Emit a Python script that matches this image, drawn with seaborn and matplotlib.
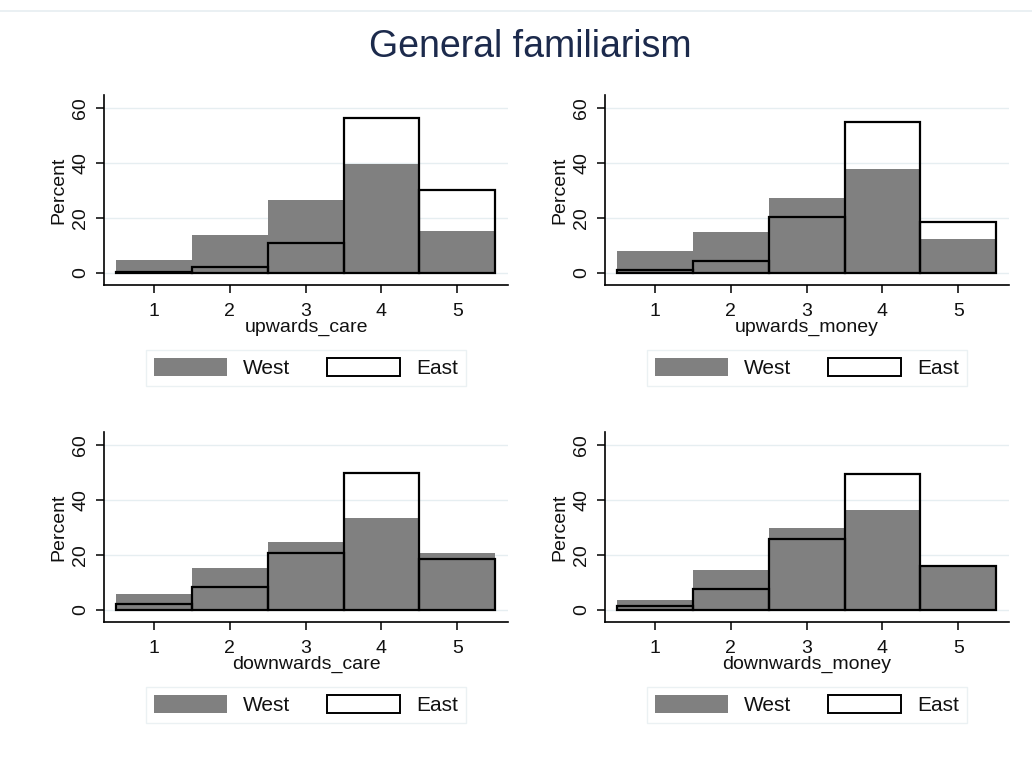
import numpy as np
import pandas as pd
import matplotlib
matplotlib.use("Agg")
import matplotlib.pyplot as plt
from matplotlib.patches import Patch
from matplotlib.lines import Line2D
import seaborn as sns

# answer categories 1..5, percent of respondents per region
categories = [1, 2, 3, 4, 5]
variables = ["upwards_care", "upwards_money", "downwards_care", "downwards_money"]

west_upwards_care = [4.6, 13.7, 26.6, 39.8, 15.3]
east_upwards_care = [0.4, 2.2, 11.0, 56.4, 30.0]

west_upwards_money = [8.0, 14.7, 27.3, 37.8, 12.2]
east_upwards_money = [0.9, 4.4, 20.3, 54.9, 18.6]

west_downwards_care = [5.7, 15.2, 24.8, 33.6, 20.7]
east_downwards_care = [2.2, 8.3, 20.5, 50.0, 18.3]

west_downwards_money = [3.4, 14.6, 29.8, 36.5, 15.7]
east_downwards_money = [1.4, 7.6, 25.8, 49.4, 15.8]

west = [west_upwards_care, west_upwards_money, west_downwards_care, west_downwards_money]
east = [east_upwards_care, east_upwards_money, east_downwards_care, east_downwards_money]

sns.set_theme(style="white")
plt.rcParams["font.family"] = ["Liberation Sans", "DejaVu Sans"]

W, H = 1032, 757
fig = plt.figure(figsize=(W / 100, H / 100), dpi=100)

# axes boxes in pixels: left, top, right, bottom
boxes = [(104, 95, 508, 285), (605, 95, 1009, 285),
         (104, 432, 508, 622), (605, 432, 1009, 622)]

gray = "#808080"
text_col = "#111111"

for i, var in enumerate(variables):
    l, t, r, b = boxes[i]
    ax = fig.add_axes([l / W, 1 - b / H, (r - l) / W, (b - t) / H])
    sns.histplot(x=categories, weights=west[i], discrete=True, stat="count",
                 color=gray, edgecolor=gray, alpha=1, linewidth=0, ax=ax)
    sns.histplot(x=categories, weights=east[i], discrete=True, stat="count",
                 fill=False, color="black", linewidth=1.6, ax=ax)
    ax.set_xlim(0.34, 5.67)
    ax.set_ylim(-4.5, 64.8)
    ax.set_xticks(categories)
    ax.set_yticks([0, 20, 40, 60])
    ax.grid(axis="y", color="#e6eef1", linewidth=1.0)
    ax.set_axisbelow(True)
    for s in ["top", "right"]:
        ax.spines[s].set_visible(False)
    for s in ["left", "bottom"]:
        ax.spines[s].set_color("black")
        ax.spines[s].set_linewidth(1.2)
    ax.tick_params(axis="both", direction="out", length=6, width=1.1,
                   color="black", labelsize=14, labelcolor=text_col,
                   bottom=True, left=True)
    ax.tick_params(axis="x", pad=7)
    ax.tick_params(axis="y", pad=4.5)
    for lab in ax.get_yticklabels():
        lab.set_rotation(90)
        lab.set_va("center")
    ax.set_ylabel("Percent", fontsize=14, color=text_col, labelpad=3.5)
    ax.set_xlabel(var, fontsize=14, color=text_col, labelpad=-1)

    handles = [Patch(facecolor=gray, edgecolor=gray, linewidth=0),
               Patch(facecolor="white", edgecolor="black", linewidth=1.4)]
    cx = (l + r) / 2
    cy = b + 83
    ax.legend(handles, ["West", "East"], ncol=2, loc="center",
              bbox_to_anchor=(cx / W, 1 - cy / H), bbox_transform=fig.transFigure,
              fontsize=15, frameon=True, fancybox=False, edgecolor="#e6eef1",
              handlelength=3.5, handleheight=0.95, handletextpad=0.75,
              columnspacing=1.8, borderpad=0.4, labelcolor=text_col)

fig.text(530 / W, 1 - 47 / H, "General familiarism", ha="center", va="center",
         fontsize=27, color="#1c2a4c")
fig.add_artist(Line2D([0, 1], [1 - 11 / H, 1 - 11 / H], transform=fig.transFigure,
                      color="#e6eef1", linewidth=1.2))

fig.savefig("out.png", dpi=100, facecolor="white")
